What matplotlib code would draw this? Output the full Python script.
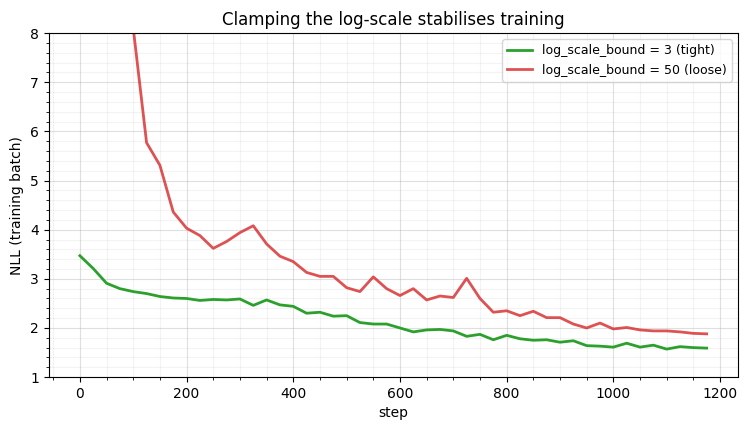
import numpy as np
import matplotlib
matplotlib.use("Agg")
import matplotlib.pyplot as plt
from matplotlib.ticker import AutoMinorLocator

# training steps, logged every 25
steps = np.arange(0, 1200, 25)

# NLL on training batch, log_scale_bound = 3
nll_tight = [3.47, 3.21, 2.91, 2.80, 2.74, 2.70, 2.64, 2.61, 2.60, 2.56,
             2.58, 2.57, 2.59, 2.46, 2.57, 2.47, 2.44, 2.30, 2.32, 2.24,
             2.25, 2.11, 2.08, 2.08, 2.00, 1.92, 1.96, 1.97, 1.94, 1.83,
             1.87, 1.76, 1.85, 1.78, 1.75, 1.76, 1.71, 1.74, 1.64, 1.63,
             1.61, 1.69, 1.61, 1.65, 1.57, 1.62, 1.60, 1.59]

# NLL on training batch, log_scale_bound = 50 (first points are off the top)
nll_loose = [15.0, 12.5, 10.8, 9.2, 8.1, 5.77, 5.31, 4.36, 4.03, 3.88,
             3.62, 3.76, 3.94, 4.08, 3.71, 3.46, 3.35, 3.13, 3.05, 3.05,
             2.82, 2.74, 3.04, 2.80, 2.66, 2.80, 2.57, 2.65, 2.62, 3.01,
             2.60, 2.32, 2.35, 2.25, 2.34, 2.21, 2.21, 2.08, 2.00, 2.10,
             1.98, 2.01, 1.96, 1.94, 1.94, 1.92, 1.89, 1.88]

fig, ax = plt.subplots(figsize=(7.47, 4.30), dpi=100)
ax.plot(steps, nll_tight, color='tab:green', lw=2, label="log_scale_bound = 3 (tight)")
ax.plot(steps, nll_loose, color='tab:red', lw=2, alpha=0.8, label="log_scale_bound = 50 (loose)")

ax.set_ylim(1, 8)
ax.set_title("Clamping the log-scale stabilises training")
ax.set_xlabel("step")
ax.set_ylabel("NLL (training batch)")
ax.xaxis.set_minor_locator(AutoMinorLocator())
ax.yaxis.set_minor_locator(AutoMinorLocator())
ax.grid(which='major', alpha=0.4)
ax.grid(which='minor', alpha=0.15)
ax.legend(loc='upper right', fontsize=9)

fig.subplots_adjust(left=0.065, right=0.988, top=0.923, bottom=0.123)
fig.savefig("out.png", dpi=100)
